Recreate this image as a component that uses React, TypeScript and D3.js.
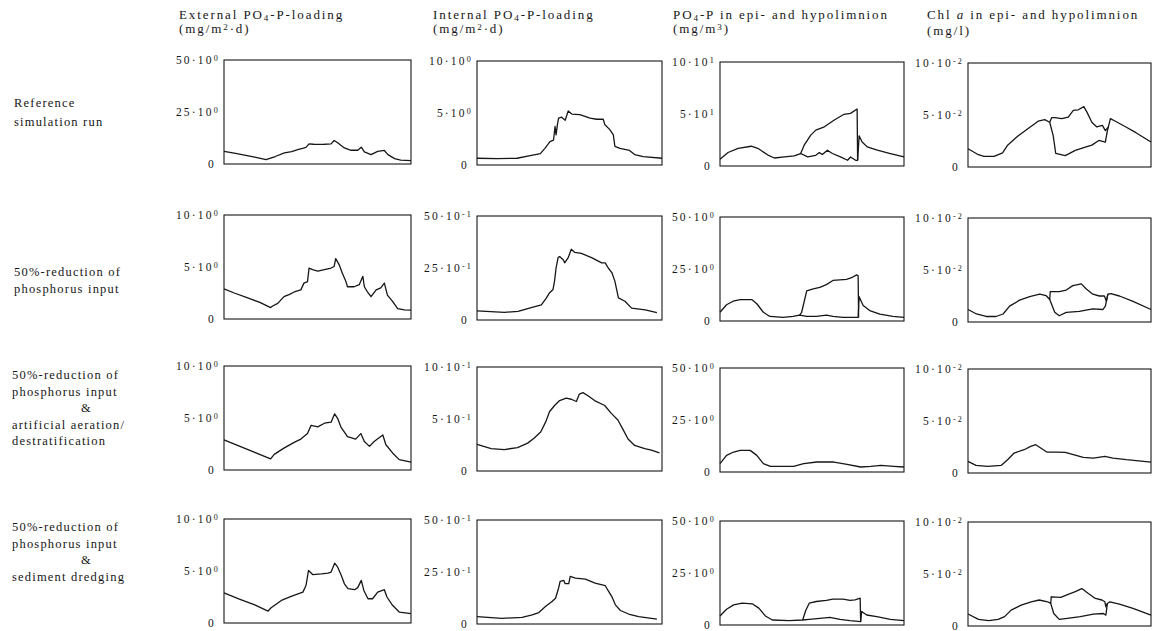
import React, { useEffect, useRef } from 'react';
import * as d3 from 'd3';

type Pt = [number, number];

// x = day of year (0..365), y = value in the unit shown on the panel axis

// External PO4-P loading (mg/m2 d)
const extRef: Pt[] = [[0,6.1],[20,5.2],[40,4.3],[60,3.3],[82,2.1],[100,3.6],[118,5.3],[132,6.0],[144,6.9],[155,7.6],[160,8.0],[166,9.7],[175,9.5],[183,9.4],[196,9.5],[209,9.7],[215,11.3],[222,10.2],[228,9.0],[235,7.7],[248,6.6],[261,6.6],[268,8.1],[274,5.8],[287,4.5],[300,6.1],[313,6.5],[320,4.5],[333,2.6],[345,1.9],[365,1.6]];
const extCut: Pt[] = [[0,2.9],[20,2.5],[45,2.05],[70,1.6],[91,1.1],[95,1.25],[105,1.5],[117,2.15],[127,2.35],[137,2.6],[150,2.8],[156,3.45],[163,3.6],[166,4.9],[173,4.75],[183,4.6],[196,4.75],[209,4.9],[215,5.05],[218,5.8],[225,5.2],[231,4.4],[238,3.6],[241,3.1],[254,3.1],[264,3.3],[271,4.1],[274,3.1],[280,2.6],[287,2.15],[297,2.8],[306,3.0],[313,3.45],[319,2.3],[329,1.7],[339,1.0],[352,0.87],[365,0.85]];
const extAer: Pt[] = [[0,2.9],[30,2.3],[60,1.7],[91,1.07],[98,1.5],[117,2.1],[137,2.65],[150,2.97],[163,3.5],[170,4.3],[183,4.15],[196,4.5],[209,4.6],[216,5.4],[222,4.95],[228,4.15],[241,3.2],[257,2.97],[267,3.5],[274,2.74],[284,2.27],[293,2.74],[310,3.37],[316,2.43],[329,1.64],[342,1.0],[365,0.76]];
const extDredge: Pt[] = [[0,2.9],[30,2.3],[60,1.75],[86,1.15],[92,1.47],[112,2.17],[131,2.56],[154,2.97],[160,3.6],[165,5.05],[173,4.66],[190,4.73],[203,4.8],[209,4.9],[216,5.75],[222,5.37],[229,4.57],[235,3.77],[242,3.3],[255,3.2],[261,3.4],[268,4.1],[273,3.13],[281,2.33],[290,2.33],[300,2.97],[313,3.2],[318,2.5],[329,1.7],[342,1.05],[365,0.9]];

// Internal PO4-P loading (mg/m2 d)
const intRef: Pt[] = [[0,0.65],[40,0.62],[79,0.65],[105,0.9],[125,1.1],[134,1.6],[144,2.25],[151,2.4],[154,3.7],[156,2.9],[159,4.0],[161,4.5],[167,4.6],[174,4.3],[180,5.2],[187,4.9],[203,4.85],[223,4.5],[236,4.4],[249,4.4],[252,3.9],[262,3.4],[269,2.9],[272,1.8],[282,1.6],[301,1.4],[311,1.0],[328,0.8],[365,0.65]];
const intCut: Pt[] = [[0,0.44],[54,0.37],[81,0.41],[107,0.6],[127,0.73],[137,1.06],[143,1.3],[150,1.47],[153,1.87],[156,2.5],[160,3.0],[163,3.05],[170,2.9],[173,2.75],[180,3.0],[186,3.4],[193,3.25],[206,3.2],[226,3.0],[246,2.75],[253,2.75],[259,2.5],[266,2.28],[272,1.87],[279,1.06],[292,0.9],[305,0.57],[332,0.49],[355,0.36]];
const intAer: Pt[] = [[0,0.255],[28,0.215],[54,0.206],[80,0.225],[100,0.268],[113,0.317],[126,0.378],[136,0.477],[143,0.57],[153,0.63],[163,0.677],[176,0.70],[186,0.69],[196,0.668],[202,0.74],[209,0.754],[219,0.723],[232,0.677],[252,0.63],[265,0.554],[278,0.49],[288,0.4],[298,0.308],[311,0.246],[331,0.215],[344,0.2],[360,0.175]];
const intDredge: Pt[] = [[0,0.35],[49,0.27],[89,0.32],[109,0.44],[122,0.55],[135,0.84],[148,1.08],[155,1.24],[161,1.73],[164,2.05],[171,2.1],[174,1.94],[181,1.94],[184,2.29],[194,2.21],[214,2.16],[233,1.97],[253,1.84],[260,1.56],[266,1.32],[273,0.92],[283,0.65],[299,0.48],[319,0.35],[355,0.23]];

// PO4-P in epi- and hypolimnion (mg/m3)
const po4RefEpi: Pt[] = [[0,6.5],[16,13],[36,17],[62,19],[75,17],[95,10.5],[108,7.7],[128,8.7],[147,9.7],[160,12],[174,8.7],[190,10.3],[197,12.9],[203,11],[213,15.2],[223,12],[239,8.7],[253,5.5],[259,8.7],[269,5.5],[273,5.5],[276,29],[282,23],[292,18.4],[312,15.2],[338,12],[365,8.7]];
const po4RefHypo: Pt[] = [[160,12],[167,20],[180,29.7],[190,34.5],[207,37.7],[226,44],[246,49.7],[259,50.6],[272,54.8],[273,5.5]];
const po4CutEpi: Pt[] = [[0,4.2],[13,7.8],[26,9.5],[40,10.3],[63,10.3],[73,8.3],[86,4.2],[99,2.2],[125,1.7],[145,2.2],[158,2.8],[172,2.2],[191,2.2],[211,2.8],[224,2.2],[244,1.7],[274,1.7],[276,11.7],[284,7.5],[297,5],[317,3.3],[343,2.2],[365,1.7]];
const po4CutHypo: Pt[] = [[158,2.8],[162,4.2],[172,14.5],[185,15.5],[198,16.2],[211,17.5],[224,19.5],[251,20],[261,20.8],[271,22.2],[274,21.7],[275,1.7]];
const po4Aer: Pt[] = [[0,4.0],[13,8],[27,9.6],[40,10.4],[60,10.4],[73,8],[86,4],[100,2.7],[146,2.7],[166,4],[192,4.8],[226,4.8],[252,3.7],[279,2.4],[299,2.7],[319,3.2],[345,2.7],[365,2.4]];
const po4DredgeEpi: Pt[] = [[0,4.35],[13,7.6],[27,9.7],[44,10.5],[64,10.2],[77,8.1],[90,4.35],[104,2.4],[137,2.1],[164,2.4],[177,2.7],[198,3.2],[218,3.7],[238,2.7],[258,2.1],[279,1.6],[281,6.5],[291,4.8],[311,4.0],[338,2.7],[365,2.1]];
const po4DredgeHypo: Pt[] = [[164,2.4],[170,7],[177,10.5],[191,11.3],[211,11.8],[224,12.4],[244,12.4],[258,11.8],[268,12.1],[278,12.9],[279,1.6]];

// Chl a in epi- and hypolimnion (mg/l)
const chlRefA: Pt[] = [[0,.0176],[19,.0122],[32,.0103],[52,.0103],[69,.0135],[79,.021],[99,.0295],[120,.037],[140,.044],[153,.0455],[163,.043],[167,.0475],[173,.0475],[187,.0465],[200,.048],[210,.0545],[220,.055],[231,.058],[237,.053],[247,.043],[257,.0385],[268,.04],[274,.035],[280,.0385],[284,.0465],[294,.044],[315,.0385],[335,.033],[365,.024]];
const chlRefB: Pt[] = [[163,.043],[170,.030],[175,.013],[194,.011],[214,.016],[234,.019],[247,.021],[261,.0255],[274,.024],[278,.035],[280,.0385]];
const chlCutA: Pt[] = [[0,.012],[17,.0077],[36,.0053],[56,.0053],[70,.0077],[83,.0153],[103,.021],[123,.0243],[143,.0267],[156,.0253],[163,.0217],[164,.0293],[182,.0293],[196,.0307],[209,.035],[226,.0367],[236,.0317],[249,.0267],[262,.025],[272,.025],[276,.02],[279,.0267],[285,.0273],[302,.025],[328,.02],[365,.012]];
const chlCutB: Pt[] = [[163,.0217],[173,.0093],[182,.006],[196,.0093],[222,.0103],[249,.0127],[269,.012],[274,.0153],[279,.0267]];
const chlAer: Pt[] = [[0,.0112],[16,.0073],[39,.0064],[66,.0073],[79,.0128],[92,.0192],[112,.0224],[125,.0256],[135,.0272],[145,.024],[158,.02],[178,.02],[194,.0198],[210,.0176],[230,.015],[250,.0144],[273,.016],[289,.0144],[316,.0128],[365,.0105]];
const chlDredgeA: Pt[] = [[0,.0115],[21,.0064],[41,.0051],[60,.0064],[73,.009],[86,.0153],[106,.02],[126,.0233],[142,.025],[159,.0233],[165,.0217],[166,.0281],[185,.0275],[201,.0307],[214,.033],[227,.036],[240,.0313],[254,.0265],[267,.025],[273,.0233],[275,.0185],[278,.0217],[283,.0233],[302,.021],[329,.017],[365,.0105]];
const chlDredgeB: Pt[] = [[165,.0217],[171,.012],[182,.0064],[198,.0073],[224,.009],[250,.0115],[270,.012],[275,.0105],[278,.0217]];

const seriesGrid: Pt[][][][] = [
  [[extRef], [intRef], [po4RefEpi, po4RefHypo], [chlRefA, chlRefB]],
  [[extCut], [intCut], [po4CutEpi, po4CutHypo], [chlCutA, chlCutB]],
  [[extAer], [intAer], [po4Aer], [chlAer]],
  [[extDredge], [intDredge], [po4DredgeEpi, po4DredgeHypo], [chlDredgeA, chlDredgeB]],
];

const yMax = [
  [50, 10, 100, 0.1],
  [10, 5, 50, 0.1],
  [10, 1, 50, 0.1],
  [10, 5, 50, 0.1],
];
const topLabels = [
  ['50·10^0', '10·10^0', '10·10^1', '10·10^-2'],
  ['10·10^0', '50·10^-1', '50·10^0', '10·10^-2'],
  ['10·10^0', '10·10^-1', '50·10^0', '10·10^-2'],
  ['10·10^0', '50·10^-1', '50·10^0', '10·10^-2'],
];
const midLabels = [
  ['25·10^0', '5·10^0', '5·10^1', '5·10^-2'],
  ['5·10^0', '25·10^-1', '25·10^0', '5·10^-2'],
  ['5·10^0', '5·10^-1', '25·10^0', '5·10^-2'],
  ['5·10^0', '25·10^-1', '25·10^0', '5·10^-2'],
];

const colTitles = [
  ['External PO_4-P-loading', '(mg/m^2·d)'],
  ['Internal PO_4-P-loading', '(mg/m^2·d)'],
  ['PO_4-P in epi- and hypolimnion', '(mg/m^3)'],
  ['Chl *a* in epi- and hypolimnion', '(mg/l)'],
];
const rowLabels = [
  ['Reference', 'simulation run'],
  ['50%-reduction of', 'phosphorus input'],
  ['50%-reduction of', 'phosphorus input', '&', 'artificial aeration/', 'destratification'],
  ['50%-reduction of', 'phosphorus input', '&', 'sediment dredging'],
];

// layout
const colX = [224, 477, 720, 968];
const colW = [187, 185, 184, 183];
const colDy = [0, 1, 2, 3];
const rowY = [60, 215, 366, 519];
const panelH = 104;
const headerX = [179, 433, 673, 927];
const headerY2 = [33, 33, 33, 35];
const rowLabelY = [107, 276, 379, 531];
const rowLabelLh = [19, 17, 16.5, 16.5];
const INK = '#161616';
const FONT = '"Liberation Serif", "Times New Roman", serif';

// small markup: _x subscript, ^x superscript, *x* italic
const rich = (text: d3.Selection<SVGTextElement, unknown, null, undefined>, s: string, size: number) => {
  const parts = s.split(/(_\d|\^-?\d|\*[^*]+\*)/).filter(p => p !== '');
  let shift = 0;
  parts.forEach(p => {
    const t = text.append('tspan');
    if (p[0] === '_') {
      t.attr('dy', 2 - shift).attr('font-size', size * 0.7).text(p.slice(1));
      shift = 2;
    } else if (p[0] === '^') {
      t.attr('dy', -3.5 - shift).attr('font-size', size * 0.7).text(p.slice(1));
      shift = -3.5;
    } else {
      if (shift !== 0) t.attr('dy', -shift);
      shift = 0;
      if (p[0] === '*') t.attr('font-style', 'italic').text(p.slice(1, -1));
      else t.text(p);
    }
  });
};

const App: React.FC = () => {
  const svgRef = useRef<SVGSVGElement | null>(null);

  useEffect(() => {
    if (!svgRef.current) return;
    const svg = d3.select(svgRef.current);
    svg.selectAll('*').remove();

    // column headers
    colTitles.forEach((lines, c) => {
      lines.forEach((ln, i) => {
        const t = svg.append('text')
          .attr('x', headerX[c])
          .attr('y', i === 0 ? 18.5 : headerY2[c])
          .attr('font-size', 13)
          .attr('letter-spacing', 1.9)
          .attr('fill', INK);
        rich(t, ln, 13);
      });
    });

    // row labels
    rowLabels.forEach((lines, r) => {
      lines.forEach((ln, i) => {
        svg.append('text')
          .attr('x', ln === '&' ? 81 : (r < 2 ? 14 : 12))
          .attr('y', rowLabelY[r] + i * rowLabelLh[r])
          .attr('font-size', 12.5)
          .attr('letter-spacing', 1.2)
          .attr('fill', INK)
          .text(ln);
      });
    });

    const line = d3.line<Pt>();

    seriesGrid.forEach((row, r) => {
      row.forEach((series, c) => {
        const left = colX[c];
        const top = rowY[r] + colDy[c];
        const x = d3.scaleLinear().domain([0, 365]).range([left, left + colW[c]]);
        const y = d3.scaleLinear().domain([0, yMax[r][c]]).range([top + panelH, top]);
        const g = svg.append('g');

        g.append('rect')
          .attr('x', x(0)).attr('y', y(yMax[r][c]))
          .attr('width', x(365) - x(0)).attr('height', y(0) - y(yMax[r][c]))
          .attr('fill', 'none').attr('stroke', INK).attr('stroke-width', 1.1);

        series.forEach(s => {
          line.x(d => x(d[0])).y(d => y(d[1]));
          g.append('path')
            .attr('d', line(s) || '')
            .attr('fill', 'none')
            .attr('stroke', INK)
            .attr('stroke-width', 1.3)
            .attr('stroke-linejoin', 'round');
        });

        const ticks: [number, string][] = [
          [yMax[r][c], topLabels[r][c]],
          [yMax[r][c] / 2, midLabels[r][c]],
          [0, '0'],
        ];
        ticks.forEach(([v, lab]) => {
          const t = g.append('text')
            .attr('x', x(0) - (lab === '0' ? 8 : 4))
            .attr('y', y(v) + 4)
            .attr('text-anchor', 'end')
            .attr('font-size', 11.5)
            .attr('letter-spacing', 2.2)
            .attr('fill', INK);
          rich(t, lab, 11.5);
        });
      });
    });
  }, []);

  return (
    <svg
      ref={svgRef}
      width={1158}
      height={631}
      style={{ position: 'absolute', left: 0, top: 0, background: '#fff', fontFamily: FONT }}
    />
  );
};

export default App;
